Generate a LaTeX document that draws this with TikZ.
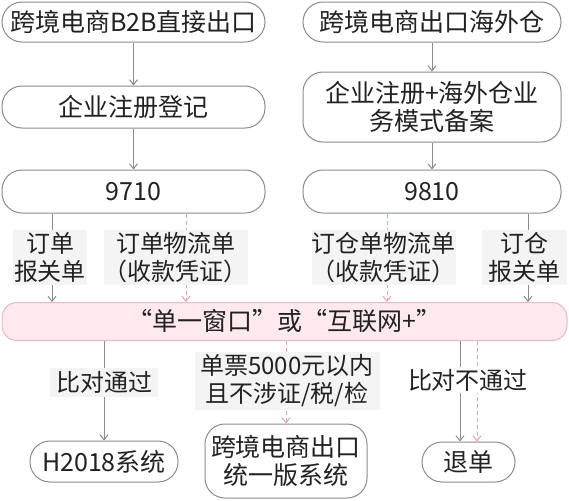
\documentclass[tikz,border=0pt]{standalone}
\usepackage{fontspec}
\newfontfamily\cn{Noto Sans CJK SC}
\usetikzlibrary{arrows.meta,positioning,calc}
\definecolor{linegray}{HTML}{8C8C8C}
\definecolor{textdark}{HTML}{222222}
\definecolor{pinkline}{HTML}{E7A2B3}
\definecolor{pinkfill}{HTML}{FDE9EE}
\definecolor{pinkdraw}{HTML}{EAB9C6}
\definecolor{labelbg}{HTML}{F4F4F4}

\begin{document}
\begin{tikzpicture}[x=0.5pt, y=-0.5pt,
  box/.style = {draw=linegray, line width=0.5pt, rounded corners=10pt, align=center, inner sep=0pt,
                text=textdark, font=\cn\fontsize{12.5pt}{14pt}\selectfont},
  tag/.style = {fill=labelbg, align=center, inner sep=0pt, text=textdark,
                font=\cn\fontsize{12pt}{14pt}\selectfont},
  arr/.style = {draw=linegray, line width=0.5pt, -{Straight Barb[length=2.5pt,width=4pt]}},
  pinkarr/.style = {draw=pinkline, line width=0.5pt, dash pattern=on 2pt off 1.5pt,
                    -{Straight Barb[length=2.5pt,width=4pt]}}]
  \fill[white] (0,0) rectangle (569,500);
  \useasboundingbox (0,0) rectangle (569,500);

  % top rows
  \node [box, minimum width=131.5pt, minimum height=20pt] (b2b) at (133.5,22) {跨境电商B2B直接出口};
  \node [box, minimum width=129pt, minimum height=20pt] (wh) at (432,22) {跨境电商出口海外仓};
  \node [box, minimum width=131.5pt, minimum height=21pt] (reg) at (133.5,107) {企业注册登记};
  \node [box, minimum width=129pt, minimum height=35pt] (regwh) at (432,107) {企业注册+海外仓业\\务模式备案};
  \node [box, minimum width=131.5pt, minimum height=21.5pt] (c9710) at (133.5,191.5) {9710};
  \node [box, minimum width=129pt, minimum height=21.5pt] (c9810) at (432,191.5) {9810};

  \draw [arr] (b2b) -- (reg);
  \draw [arr] (reg) -- (c9710);
  \draw [arr] (wh) -- (regwh);
  \draw [arr] (regwh) -- (c9810);

  % single window
  \node [box, fill=pinkfill, draw=pinkdraw, rounded corners=7.5pt, minimum width=282.5pt,
         minimum height=19pt] (single) at (284.5,321.5) {“单一窗口”或“互联网+”};

  \coordinate (lane1) at (52,0);
  \coordinate (lane2) at (186,0);
  \coordinate (lane3) at (387,0);
  \coordinate (lane4) at (528,0);
  \draw [arr] (c9710.south -| lane1) -- (single.north -| lane1);
  \draw [pinkarr] (c9710.south -| lane2) -- (single.north -| lane2);
  \draw [pinkarr] (c9810.south -| lane3) -- (single.north -| lane3);
  \draw [arr] (c9810.south -| lane4) -- (single.north -| lane4);

  \node [tag, minimum width=37pt, minimum height=27.5pt] (l1) at (50,257.5) {订单\\报关单};
  \node [tag, minimum width=72pt, minimum height=27.5pt] (l2) at (176,257.5) {订单物流单\\（收款凭证）};
  \node [tag, minimum width=71.5pt, minimum height=27.5pt] (l3) at (383.5,257.5) {订仓单物流单\\（收款凭证）};
  \node [tag, minimum width=42.5pt, minimum height=27.5pt] (l4) at (524.5,257.5) {订仓\\报关单};

  % results
  \node [box, minimum width=74pt, minimum height=20.5pt] (h2018) at (104,461.5) {H2018系统};
  \node [box, minimum width=81pt, minimum height=37pt] (unified) at (286,461) {跨境电商出口\\统一版系统};
  \node [box, minimum width=46.5pt, minimum height=20pt] (tuidan) at (468.5,462) {退单};

  \coordinate (lane5) at (460,0);
  \coordinate (lane6) at (477,0);
  \draw [arr] (single.south -| h2018) -- (h2018);
  \draw [pinkarr] (single.south -| unified) -- (unified);
  \draw [arr] (single.south -| lane5) -- (tuidan.north -| lane5);
  \draw [pinkarr] (single.south -| lane6) -- (tuidan.north -| lane6);

  \node [tag, minimum width=54pt, minimum height=14.5pt] (m1) at (104,382) {比对通过};
  \node [tag, minimum width=92.5pt, minimum height=29pt] (m2) at (287,381) {单票5000元以内\\且不涉证/税/检};
  \node [tag, fill=white, inner sep=1pt] (m3) at (468,380) {比对不通过};
\end{tikzpicture}
\end{document}
